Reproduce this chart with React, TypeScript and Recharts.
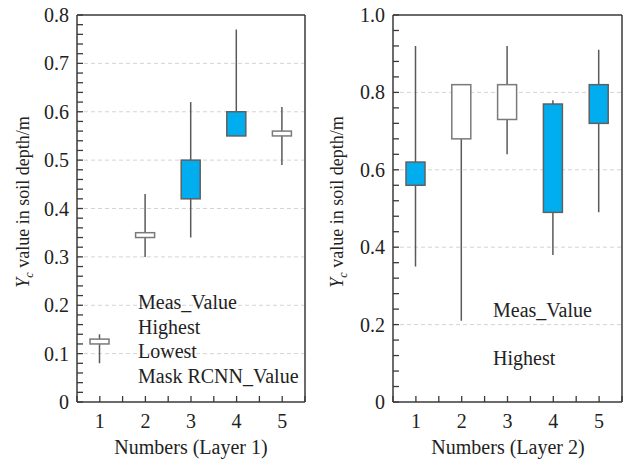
import React from 'react'
import { ComposedChart, Bar, XAxis, YAxis, CartesianGrid } from 'recharts'

const layers = [1, 2, 3, 4, 5]

// Layer 1 (Meas = open, Mask RCNN = close)
const meas1 = [0.12, 0.34, 0.5, 0.6, 0.55]
const high1 = [0.14, 0.43, 0.62, 0.77, 0.61]
const low1 = [0.08, 0.3, 0.34, 0.55, 0.49]
const rcnn1 = [0.13, 0.35, 0.42, 0.55, 0.56]

// Layer 2
const meas2 = [0.62, 0.68, 0.73, 0.77, 0.82]
const high2 = [0.92, 0.82, 0.92, 0.78, 0.91]
const low2 = [0.35, 0.21, 0.64, 0.38, 0.49]
const rcnn2 = [0.56, 0.82, 0.82, 0.49, 0.72]

const yMajor1 = [0, 0.1, 0.2, 0.3, 0.4, 0.5, 0.6, 0.7, 0.8]
const yMajor2 = [0, 0.2, 0.4, 0.6, 0.8, 1.0]
const xMajor = [1, 2, 3, 4, 5]

const FONT = '"Liberation Serif", "DejaVu Serif", serif'
const AXIS = '#3a3a3a'
const BLUE = '#00aeef'
const FS = 20

const build = (o: number[], h: number[], l: number[], c: number[]) =>
  layers.map((n, i) => ({ n, open: o[i], high: h[i], low: l[i], close: c[i] }))

const data1 = build(meas1, high1, low1, rcnn1)
const data2 = build(meas2, high2, low2, rcnn2)

// minor tick positions between the labelled ones
const withMinor = (major: number[], parts: number) => {
  const out: number[] = []
  for (let i = 0; i < major.length - 1; i++) {
    const step = (major[i + 1] - major[i]) / parts
    for (let j = 0; j < parts; j++) out.push(+(major[i] + j * step).toFixed(4))
  }
  out.push(major[major.length - 1])
  return out
}

const isMajor = (v: number, major: number[]) => major.some(m => Math.abs(m - v) < 1e-6)

function Candle(props: any) {
  const { x, y, width, height, payload } = props
  const { open, close, high, low } = payload
  const cx = x + width / 2
  const top = Math.min(y, y + height)
  const k = Math.abs(height) / (high - low)
  const py = (v: number) => top + (high - v) * k
  const up = close >= open
  const bTop = py(Math.max(open, close))
  const bBot = py(Math.min(open, close))
  return (
    <g>
      <line x1={cx} x2={cx} y1={py(high)} y2={py(low)} stroke="#5a5a5a" strokeWidth={1.5} />
      <rect
        x={cx - 9.5}
        y={bTop}
        width={19}
        height={Math.max(bBot - bTop, 1)}
        fill={up ? '#ffffff' : BLUE}
        stroke={up ? '#7a7a7a' : '#606060'}
        strokeWidth={1.5}
      />
    </g>
  )
}

function XTick({ x, y, payload }: any) {
  const v = payload.value
  return (
    <g>
      <line x1={x} x2={x} y1={y} y2={y - 6} stroke={AXIS} strokeWidth={1.3} />
      {isMajor(v, xMajor) && (
        <text x={x} y={y + 26} textAnchor="middle" fontFamily={FONT} fontSize={FS} fill="#222">
          {Math.round(v)}
        </text>
      )}
    </g>
  )
}

const makeYTick = (major: number[]) => ({ x, y, payload }: any) => {
  const v = payload.value
  return (
    <g>
      <line x1={x} x2={x + 6} y1={y} y2={y} stroke={AXIS} strokeWidth={1.3} />
      {isMajor(v, major) && (
        <text x={x - 8} y={y + 7} textAnchor="end" fontFamily={FONT} fontSize={FS} fill="#222">
          {v === 0 ? '0' : v.toFixed(1)}
        </text>
      )}
    </g>
  )
}

function Panel({ data, yMajor, parts, width, margin }: any) {
  const yMax = yMajor[yMajor.length - 1]
  const xAll = withMinor([0.5, 5.5], 10)
  return (
    <ComposedChart width={width} height={459} data={data} margin={margin}>
      <CartesianGrid
        horizontal
        vertical={false}
        horizontalValues={yMajor.slice(1, -1)}
        stroke="#d4d4d4"
        strokeDasharray="4 3"
      />
      <XAxis
        dataKey="n"
        type="number"
        domain={[0.5, 5.5]}
        ticks={xAll}
        interval={0}
        tick={<XTick />}
        tickLine={false}
        tickSize={0}
        tickMargin={0}
        height={1}
        stroke={AXIS}
        strokeWidth={1.5}
      />
      <XAxis xAxisId="top" orientation="top" type="number" domain={[0.5, 5.5]} tick={false} tickLine={false} height={1} stroke={AXIS} strokeWidth={1.5} />
      <YAxis
        type="number"
        domain={[0, yMax]}
        ticks={withMinor(yMajor, parts)}
        interval={0}
        tick={makeYTick(yMajor)}
        tickLine={false}
        tickSize={0}
        tickMargin={0}
        width={1}
        stroke={AXIS}
        strokeWidth={1.5}
        allowDataOverflow
      />
      <YAxis yAxisId="right" orientation="right" type="number" domain={[0, yMax]} tick={false} tickLine={false} width={1} stroke={AXIS} strokeWidth={1.5} />
      <Bar dataKey={(d: any) => [d.low, d.high]} barSize={19} shape={<Candle />} isAnimationActive={false} />
    </ComposedChart>
  )
}

const textStyle: React.CSSProperties = {
  position: 'absolute',
  fontFamily: FONT,
  fontSize: FS,
  color: '#222',
  whiteSpace: 'nowrap',
}

function YTitle({ cx, cy }: { cx: number; cy: number }) {
  return (
    <div
      style={{
        ...textStyle,
        fontSize: 18,
        left: cx,
        top: cy,
        transform: 'translate(-50%, -50%) rotate(-90deg)',
        lineHeight: '20px',
      }}
    >
      <i>Y</i>
      <sub style={{ fontSize: 12, fontStyle: 'italic' }}>c</sub> value in soil depth/m
    </div>
  )
}

export default function App() {
  return (
    <div style={{ position: 'absolute', left: 0, top: 0, width: 629, height: 459, background: '#fff', overflow: 'hidden' }}>
      <div style={{ position: 'absolute', left: 0, top: 0 }}>
        <Panel data={data1} yMajor={yMajor1} parts={5} width={314} margin={{ top: 14, right: 8, bottom: 56, left: 76 }} />
      </div>
      <div style={{ position: 'absolute', left: 314, top: 0 }}>
        <Panel data={data2} yMajor={yMajor2} parts={5} width={315} margin={{ top: 14, right: 6, bottom: 56, left: 78 }} />
      </div>

      <YTitle cx={26} cy={202} />
      <YTitle cx={340} cy={202} />

      <div style={{ ...textStyle, left: 191, top: 447, transform: 'translate(-50%, -50%)' }}>Numbers (Layer 1)</div>
      <div style={{ ...textStyle, left: 508, top: 447, transform: 'translate(-50%, -50%)' }}>Numbers (Layer 2)</div>

      <div style={{ ...textStyle, left: 138, top: 290, lineHeight: '24.6px' }}>
        <div>Meas_Value</div>
        <div>Highest</div>
        <div>Lowest</div>
        <div>Mask RCNN_Value</div>
      </div>

      <div style={{ ...textStyle, left: 493, top: 298, lineHeight: '24px' }}>Meas_Value</div>
      <div style={{ ...textStyle, left: 493, top: 346, lineHeight: '24px' }}>Highest</div>
    </div>
  )
}
